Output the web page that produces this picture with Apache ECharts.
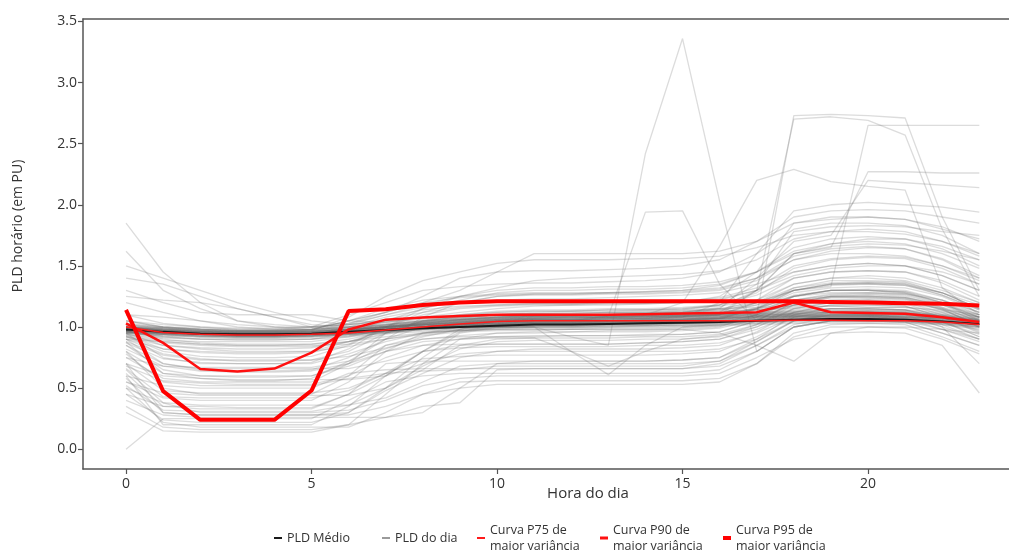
<!DOCTYPE html>
<html>
<head>
<meta charset="utf-8">
<script src="https://cdn.jsdelivr.net/npm/echarts@6/dist/echarts.min.js"></script>
<style>
html,body{margin:0;padding:0;background:#fff;}
#chart{width:1009px;height:555px;}
</style>
</head>
<body>
<div id="chart"></div>
<script>
// ---- data ----
const hours = [0,1,2,3,4,5,6,7,8,9,10,11,12,13,14,15,16,17,18,19,20,21,22,23];
const xTicks = [0,5,10,15,20];
const yTicks = [0,0.5,1,1.5,2,2.5,3,3.5];

const pldMedio = [0.98,0.96,0.945,0.94,0.94,0.945,0.96,0.975,0.99,1.0,1.01,1.02,1.02,1.025,1.03,1.035,1.04,1.05,1.06,1.065,1.065,1.06,1.045,1.025];
const p75 = [1.0,0.955,0.94,0.935,0.935,0.94,0.95,0.975,1.0,1.025,1.045,1.05,1.05,1.05,1.05,1.05,1.05,1.05,1.055,1.055,1.05,1.05,1.04,1.02];
const p90 = [1.03,0.87,0.656,0.636,0.66,0.79,0.98,1.06,1.078,1.09,1.1,1.1,1.1,1.1,1.105,1.11,1.115,1.12,1.2,1.12,1.115,1.108,1.08,1.04];
const p95 = [1.14,0.475,0.24,0.24,0.24,0.48,1.13,1.145,1.18,1.2,1.21,1.21,1.21,1.21,1.21,1.21,1.21,1.21,1.21,1.205,1.2,1.195,1.19,1.175];

// daily curves (PLD do dia)
const dia01 = [1.00,0.97,0.95,0.95,0.95,0.95,0.97,0.98,1.00,1.01,1.02,1.03,1.03,1.03,1.04,1.04,1.05,1.06,1.07,1.07,1.07,1.07,1.05,1.03];
const dia02 = [0.97,0.95,0.94,0.93,0.93,0.94,0.95,0.97,0.98,0.99,1.00,1.01,1.01,1.02,1.02,1.03,1.03,1.04,1.05,1.05,1.05,1.05,1.04,1.01];
const dia03 = [0.99,0.98,0.97,0.96,0.96,0.96,0.98,1.00,1.02,1.03,1.04,1.05,1.05,1.05,1.06,1.06,1.07,1.08,1.09,1.09,1.09,1.08,1.06,1.04];
const dia04 = [0.96,0.94,0.93,0.92,0.92,0.93,0.94,0.96,0.97,0.98,0.99,1.00,1.00,1.01,1.01,1.02,1.02,1.03,1.04,1.04,1.04,1.04,1.03,1.00];
const dia05 = [1.01,0.99,0.98,0.97,0.97,0.97,0.99,1.01,1.03,1.05,1.06,1.07,1.07,1.07,1.08,1.08,1.09,1.10,1.11,1.11,1.10,1.10,1.08,1.05];
const dia06 = [0.98,0.96,0.95,0.94,0.94,0.95,0.96,0.98,1.00,1.02,1.03,1.04,1.04,1.04,1.05,1.05,1.06,1.07,1.08,1.08,1.08,1.07,1.06,1.03];
const dia07 = [0.95,0.93,0.92,0.91,0.91,0.92,0.93,0.95,0.96,0.97,0.98,0.99,0.99,1.00,1.00,1.01,1.01,1.02,1.03,1.03,1.03,1.03,1.02,0.99];
const dia08 = [1.02,1.00,0.99,0.98,0.98,0.98,1.00,1.02,1.04,1.06,1.08,1.09,1.09,1.09,1.10,1.10,1.11,1.12,1.13,1.13,1.12,1.12,1.10,1.07];
const dia09 = [0.99,0.97,0.96,0.95,0.95,0.95,0.97,0.99,1.01,1.03,1.05,1.06,1.06,1.06,1.07,1.07,1.08,1.09,1.10,1.10,1.09,1.09,1.07,1.04];
const dia10 = [0.97,0.96,0.95,0.94,0.94,0.94,0.96,0.97,0.99,1.00,1.01,1.02,1.02,1.03,1.03,1.04,1.04,1.05,1.06,1.06,1.06,1.06,1.05,1.02];
const dia11 = [1.00,0.98,0.97,0.96,0.96,0.96,0.98,1.01,1.04,1.07,1.10,1.12,1.13,1.13,1.14,1.14,1.15,1.16,1.17,1.17,1.16,1.16,1.14,1.10];
const dia12 = [0.98,0.97,0.96,0.95,0.95,0.95,0.97,1.00,1.03,1.06,1.08,1.10,1.10,1.11,1.12,1.12,1.13,1.14,1.15,1.15,1.14,1.14,1.12,1.08];
const dia13 = [0.96,0.95,0.94,0.93,0.93,0.93,0.95,0.97,1.00,1.03,1.05,1.07,1.08,1.08,1.09,1.09,1.10,1.11,1.12,1.12,1.11,1.11,1.09,1.06];
const dia14 = [0.97,0.96,0.95,0.95,0.95,0.95,0.96,0.98,1.00,1.01,1.02,1.02,1.03,1.03,1.04,1.04,1.05,1.06,1.07,1.07,1.07,1.06,1.05,1.02];
const dia15 = [0.99,0.97,0.96,0.96,0.96,0.96,0.98,1.00,1.02,1.04,1.06,1.07,1.07,1.08,1.08,1.09,1.10,1.11,1.13,1.13,1.12,1.12,1.10,1.06];
const dia16 = [0.98,0.95,0.94,0.93,0.93,0.94,0.95,0.97,0.99,1.01,1.02,1.03,1.03,1.04,1.04,1.05,1.05,1.06,1.08,1.08,1.08,1.07,1.06,1.03];
const dia17 = [1.05,1.00,0.98,0.97,0.97,0.98,1.05,1.15,1.22,1.25,1.27,1.28,1.28,1.28,1.29,1.30,1.32,1.40,1.55,1.62,1.65,1.64,1.55,1.40];
const dia18 = [1.10,1.03,1.00,0.98,0.98,1.00,1.10,1.20,1.30,1.33,1.35,1.36,1.36,1.37,1.38,1.40,1.45,1.60,1.80,1.85,1.85,1.83,1.75,1.60];
const dia19 = [1.00,0.97,0.95,0.95,0.95,0.96,1.02,1.10,1.16,1.20,1.22,1.23,1.23,1.24,1.25,1.26,1.28,1.35,1.45,1.50,1.52,1.50,1.42,1.30];
const dia20 = [1.20,1.12,1.05,1.00,0.98,0.98,1.05,1.12,1.25,1.40,1.45,1.46,1.46,1.47,1.48,1.50,1.55,1.70,1.90,1.95,1.96,1.95,1.90,1.85];
const dia21 = [0.98,0.96,0.95,0.94,0.94,0.95,1.00,1.08,1.14,1.17,1.18,1.19,1.19,1.20,1.20,1.21,1.23,1.30,1.42,1.48,1.50,1.50,1.45,1.35];
const dia22 = [1.02,0.99,0.97,0.96,0.96,0.97,1.08,1.25,1.38,1.45,1.52,1.55,1.55,1.55,1.56,1.56,1.58,1.65,1.75,1.78,1.78,1.76,1.70,1.60];
const dia23 = [1.05,1.00,0.98,0.97,0.97,0.98,1.05,1.12,1.20,1.30,1.45,1.60,1.60,1.60,1.60,1.60,1.62,1.70,1.85,1.90,1.90,1.88,1.80,1.72];
const dia24 = [1.00,0.98,0.96,0.96,0.96,0.97,1.03,1.12,1.20,1.24,1.26,1.27,1.27,1.28,1.29,1.30,1.34,1.45,1.60,1.68,1.72,1.72,1.66,1.55];
const dia25 = [0.30,0.15,0.14,0.14,0.14,0.14,0.20,0.45,0.70,0.90,0.95,0.96,0.96,0.97,0.97,0.98,1.00,1.10,1.25,1.30,1.30,1.28,1.20,1.05];
const dia26 = [0.60,0.20,0.20,0.20,0.20,0.20,0.35,0.60,0.80,0.85,0.86,0.86,0.86,0.86,0.87,0.88,0.90,1.00,1.15,1.20,1.22,1.20,1.12,1.00];
const dia27 = [0.00,0.25,0.25,0.25,0.25,0.25,0.40,0.55,0.60,0.62,0.62,0.62,0.62,0.62,0.62,0.62,0.65,0.80,1.00,1.05,1.05,1.04,0.95,0.85];
const dia28 = [0.70,0.30,0.28,0.28,0.28,0.28,0.30,0.50,0.75,0.95,1.00,1.00,1.00,1.01,1.01,1.02,1.04,1.10,1.20,1.25,1.25,1.24,1.18,1.08];
const dia29 = [0.45,0.35,0.35,0.34,0.34,0.34,0.45,0.70,0.72,0.72,0.72,0.72,0.72,0.72,0.72,0.73,0.75,0.90,1.10,1.15,1.15,1.14,1.05,0.92];
const dia30 = [0.55,0.42,0.40,0.40,0.40,0.40,0.55,0.80,0.95,1.00,1.02,1.03,1.03,1.03,1.04,1.04,1.06,1.15,1.30,1.35,1.36,1.35,1.28,1.15];
const dia31 = [0.80,0.50,0.45,0.45,0.45,0.45,0.60,0.85,0.90,0.92,0.92,0.92,0.93,0.93,0.93,0.94,0.96,1.05,1.20,1.25,1.25,1.24,1.15,1.00];
const dia32 = [0.60,0.52,0.50,0.50,0.50,0.50,0.62,0.65,0.66,0.66,0.66,0.66,0.66,0.66,0.66,0.66,0.70,0.85,1.00,1.05,1.05,1.05,0.98,0.90];
const dia33 = [0.75,0.58,0.55,0.55,0.55,0.55,0.70,0.95,1.05,1.08,1.09,1.10,1.10,1.10,1.11,1.12,1.14,1.22,1.40,1.45,1.46,1.45,1.38,1.25];
const dia34 = [0.85,0.65,0.60,0.60,0.60,0.60,0.68,0.80,0.85,0.86,0.86,0.86,0.86,0.86,0.87,0.88,0.90,0.98,1.10,1.15,1.15,1.14,1.08,0.95];
const dia35 = [0.90,0.70,0.65,0.64,0.64,0.65,0.75,0.90,1.00,1.02,1.03,1.04,1.04,1.04,1.05,1.05,1.07,1.15,1.28,1.32,1.33,1.32,1.25,1.12];
const dia36 = [0.95,0.75,0.70,0.70,0.70,0.70,0.78,0.88,0.95,0.97,0.98,0.98,0.98,0.99,0.99,1.00,1.02,1.08,1.18,1.22,1.22,1.21,1.15,1.05];
const dia37 = [0.92,0.80,0.76,0.75,0.75,0.76,0.85,1.00,1.10,1.15,1.17,1.18,1.18,1.19,1.19,1.20,1.22,1.30,1.45,1.50,1.52,1.50,1.42,1.30];
const dia38 = [0.95,0.85,0.82,0.80,0.80,0.80,0.88,0.95,1.00,1.02,1.03,1.03,1.04,1.04,1.05,1.05,1.07,1.12,1.20,1.24,1.24,1.23,1.16,1.08];
const dia39 = [0.97,0.90,0.87,0.86,0.86,0.86,0.90,0.96,1.00,1.03,1.05,1.06,1.06,1.07,1.07,1.08,1.10,1.15,1.25,1.30,1.30,1.29,1.22,1.12];
const dia40 = [0.50,0.22,0.18,0.18,0.18,0.18,0.18,0.30,0.45,0.55,0.56,0.56,0.56,0.56,0.56,0.56,0.58,0.70,0.95,1.02,1.03,1.02,0.92,0.80];
const dia41 = [0.65,0.38,0.30,0.30,0.30,0.30,0.32,0.40,0.52,0.58,0.60,0.60,0.60,0.60,0.60,0.60,0.62,0.75,0.90,0.95,0.96,0.95,0.85,0.46];
const dia42 = [0.88,0.62,0.58,0.57,0.57,0.57,0.57,0.60,0.70,0.78,0.80,0.80,0.80,0.80,0.80,0.80,0.82,0.90,1.05,1.10,1.10,1.10,1.00,0.70];
const dia43 = [0.40,0.28,0.26,0.26,0.26,0.26,0.26,0.26,0.30,0.50,0.70,0.72,0.72,0.72,0.72,0.73,0.75,0.88,1.05,1.10,1.10,1.08,1.00,0.90];
const dia44 = [0.35,0.18,0.16,0.16,0.16,0.16,0.20,0.26,0.35,0.38,0.65,0.66,0.66,0.66,0.66,0.66,0.68,0.80,1.00,1.05,1.05,1.04,0.95,0.85];
const dia45 = [0.55,0.46,0.44,0.44,0.44,0.44,0.44,0.50,0.65,0.85,0.90,0.91,0.91,0.91,0.92,0.92,0.94,1.02,1.15,1.20,1.20,1.19,1.10,1.00];
const dia46 = [0.70,0.60,0.58,0.56,0.56,0.58,0.72,0.90,1.08,1.20,1.25,1.26,1.26,1.27,1.27,1.28,1.30,1.38,1.55,1.60,1.60,1.58,1.50,1.38];
const dia47 = [0.62,0.35,0.33,0.33,0.33,0.33,0.45,0.60,0.80,0.98,1.05,1.06,1.06,1.06,1.07,1.08,1.10,1.20,1.35,1.40,1.40,1.38,1.30,1.20];
const dia48 = [1.85,1.45,1.20,1.05,1.00,0.98,1.00,1.03,1.05,1.07,1.08,1.09,1.09,1.10,1.10,1.11,1.12,1.15,1.25,1.30,1.30,1.28,1.20,1.10];
const dia49 = [1.62,1.30,1.15,1.05,1.02,1.00,1.02,1.05,1.08,1.10,1.12,1.13,1.13,1.14,1.14,1.15,1.17,1.22,1.35,1.40,1.42,1.40,1.32,1.20];
const dia50 = [1.40,1.35,1.25,1.15,1.08,1.02,1.00,1.02,1.05,1.06,1.07,1.08,1.08,1.08,1.09,1.09,1.10,1.12,1.18,1.20,1.20,1.19,1.15,1.08];
const dia51 = [1.30,1.20,1.12,1.10,1.10,1.10,1.05,1.04,1.06,1.08,1.10,1.11,1.11,1.12,1.12,1.13,1.14,1.18,1.25,1.28,1.28,1.27,1.22,1.12];
const dia52 = [1.25,1.22,1.20,1.15,1.08,1.00,0.98,1.00,1.04,1.06,1.07,1.08,1.08,1.08,1.09,1.09,1.10,1.14,1.22,1.25,1.25,1.24,1.18,1.10];
const dia53 = [0.95,0.92,0.90,0.90,0.90,0.90,0.92,0.95,0.98,1.00,1.00,1.00,0.92,0.85,2.42,3.36,2.03,0.80,1.00,1.05,1.06,1.05,1.02,0.98];
const dia54 = [0.96,0.94,0.92,0.92,0.92,0.92,0.94,0.97,1.00,1.02,1.03,1.04,1.05,1.09,1.94,1.95,1.35,1.05,1.12,1.15,1.15,1.14,1.08,1.02];
const dia55 = [1.00,0.97,0.96,0.95,0.95,0.96,0.98,1.02,1.05,1.07,1.08,1.09,1.10,1.10,1.11,1.12,1.15,1.10,2.73,2.74,2.73,2.71,1.90,1.30];
const dia56 = [0.98,0.96,0.95,0.94,0.94,0.95,0.97,1.00,1.03,1.05,1.06,1.07,1.08,1.08,1.09,1.10,1.12,1.30,2.70,2.72,2.69,2.57,1.80,1.25];
const dia57 = [0.97,0.95,0.94,0.94,0.94,0.94,0.96,0.99,1.02,1.04,1.05,1.06,1.06,1.07,1.08,1.09,1.11,1.20,1.30,1.33,2.65,2.65,2.65,2.65];
const dia58 = [0.99,0.97,0.96,0.95,0.95,0.96,0.98,1.01,1.04,1.06,1.07,1.08,1.09,1.09,1.10,1.20,1.66,2.20,2.29,2.19,2.15,2.12,1.32,1.10];
const dia59 = [0.97,0.95,0.94,0.93,0.93,0.94,0.96,0.99,1.02,1.04,1.05,1.06,1.06,1.07,1.07,1.08,1.20,1.60,1.95,2.00,2.02,2.00,1.98,1.94];
const dia60 = [0.99,0.97,0.96,0.95,0.95,0.95,0.97,1.00,1.03,1.05,1.06,1.07,1.07,1.08,1.09,1.10,1.15,1.40,1.70,1.75,2.20,2.18,2.16,2.14];
const dia61 = [0.96,0.94,0.93,0.92,0.92,0.93,0.95,0.98,1.00,1.02,1.03,1.04,1.04,1.05,1.05,1.06,1.10,1.30,1.60,1.65,2.27,2.27,2.26,2.26];
const dia62 = [1.00,0.98,0.97,0.96,0.96,0.97,0.99,1.02,1.05,1.08,1.10,1.11,1.12,1.12,1.13,1.14,1.18,1.35,1.78,1.82,1.83,1.82,1.78,1.75];
const dia63 = [0.98,0.96,0.95,0.94,0.94,0.95,0.97,1.00,1.03,1.06,1.08,1.09,1.10,1.10,1.11,1.12,1.16,1.30,1.60,1.66,1.68,1.67,1.62,1.55];
const dia64 = [1.03,1.00,0.98,0.97,0.97,0.98,1.00,1.04,1.08,1.12,1.15,1.17,1.18,1.18,1.19,1.20,1.25,1.45,1.85,1.88,1.90,1.88,1.82,1.70];
const dia65 = [0.95,0.93,0.92,0.92,0.92,0.92,0.94,0.96,0.98,1.00,1.00,1.00,0.80,0.61,0.85,1.00,1.02,1.03,1.05,1.06,1.06,1.05,1.03,1.00];
const dia66 = [0.90,0.88,0.86,0.85,0.85,0.86,0.88,0.92,0.95,0.97,0.98,0.98,0.98,0.98,0.98,0.98,0.95,0.85,0.72,0.95,1.00,1.00,0.98,0.95];
const dia67 = [0.97,0.95,0.94,0.94,0.94,0.94,0.96,0.98,1.01,1.03,1.05,1.06,1.06,1.07,1.07,1.08,1.09,1.10,1.11,1.11,1.10,1.10,1.08,1.05];
const dia68 = [0.99,0.96,0.95,0.94,0.94,0.95,0.96,0.98,1.00,1.02,1.04,1.05,1.05,1.05,1.06,1.06,1.07,1.08,1.09,1.09,1.09,1.08,1.07,1.04];
const dia69 = [0.96,0.94,0.93,0.93,0.93,0.93,0.95,0.97,0.99,1.01,1.03,1.04,1.04,1.04,1.05,1.05,1.06,1.07,1.08,1.08,1.08,1.07,1.05,1.02];
const dia70 = [1.00,0.98,0.96,0.95,0.95,0.95,0.97,0.99,1.02,1.04,1.06,1.08,1.08,1.09,1.10,1.10,1.11,1.12,1.14,1.14,1.13,1.13,1.11,1.07];
const dia71 = [0.98,0.96,0.94,0.94,0.94,0.94,0.96,0.98,1.00,1.02,1.03,1.04,1.04,1.05,1.05,1.06,1.07,1.09,1.11,1.12,1.12,1.11,1.09,1.05];
const dia72 = [0.97,0.95,0.95,0.94,0.94,0.95,0.96,0.99,1.02,1.05,1.07,1.09,1.09,1.10,1.11,1.11,1.12,1.14,1.16,1.17,1.16,1.16,1.13,1.08];
const dia73 = [0.92,0.85,0.83,0.82,0.82,0.83,0.88,0.97,1.03,1.06,1.08,1.09,1.09,1.10,1.10,1.11,1.13,1.20,1.32,1.36,1.37,1.36,1.28,1.15];
const dia74 = [0.93,0.88,0.86,0.85,0.85,0.85,0.86,0.90,0.94,0.97,0.99,1.00,1.00,1.00,1.01,1.01,1.03,1.10,1.22,1.26,1.27,1.26,1.18,1.06];
const dia75 = [0.90,0.78,0.74,0.72,0.72,0.73,0.80,0.95,1.05,1.10,1.13,1.14,1.14,1.15,1.15,1.16,1.18,1.26,1.40,1.45,1.46,1.45,1.36,1.22];
const dia76 = [0.85,0.70,0.66,0.66,0.66,0.66,0.66,0.72,0.80,0.83,0.84,0.84,0.84,0.84,0.85,0.85,0.87,0.95,1.08,1.12,1.13,1.12,1.04,0.94];
const dia77 = [0.80,0.62,0.60,0.59,0.59,0.60,0.70,0.85,0.93,0.96,0.97,0.97,0.98,0.98,0.98,0.99,1.01,1.08,1.22,1.27,1.28,1.27,1.19,1.08];
const dia78 = [0.94,0.89,0.88,0.88,0.88,0.88,0.92,0.98,1.04,1.09,1.12,1.13,1.13,1.14,1.14,1.15,1.18,1.28,1.48,1.55,1.57,1.56,1.48,1.35];
const dia79 = [0.70,0.48,0.46,0.46,0.46,0.46,0.50,0.62,0.74,0.76,0.77,0.77,0.77,0.77,0.77,0.78,0.80,0.92,1.08,1.13,1.14,1.13,1.04,0.92];
const dia80 = [0.50,0.38,0.36,0.36,0.36,0.36,0.36,0.42,0.55,0.68,0.70,0.70,0.70,0.70,0.70,0.70,0.72,0.85,1.02,1.08,1.08,1.07,0.98,0.88];
const dia81 = [0.45,0.24,0.22,0.22,0.22,0.22,0.30,0.48,0.62,0.75,0.80,0.82,0.82,0.82,0.82,0.83,0.85,0.96,1.12,1.18,1.18,1.17,1.08,0.96];
const dia82 = [0.87,0.74,0.71,0.70,0.70,0.71,0.82,1.00,1.15,1.25,1.30,1.32,1.32,1.33,1.33,1.34,1.37,1.45,1.62,1.68,1.70,1.68,1.60,1.48];
const dia83 = [0.93,0.82,0.79,0.78,0.78,0.79,0.86,1.00,1.12,1.20,1.25,1.27,1.27,1.28,1.28,1.29,1.31,1.40,1.58,1.64,1.66,1.64,1.56,1.42];
const dia84 = [0.96,0.92,0.90,0.89,0.89,0.90,0.95,1.05,1.15,1.22,1.28,1.30,1.30,1.31,1.31,1.32,1.35,1.45,1.65,1.72,1.74,1.72,1.64,1.50];
const dia85 = [0.58,0.30,0.28,0.28,0.28,0.28,0.28,0.35,0.45,0.50,0.53,0.53,0.53,0.53,0.53,0.53,0.55,0.70,0.92,1.00,1.00,0.99,0.90,0.78];
const dia86 = [0.78,0.55,0.52,0.52,0.52,0.52,0.58,0.62,0.64,0.65,0.68,0.68,0.68,0.68,0.68,0.68,0.72,0.88,1.05,1.12,1.13,1.12,1.02,0.90];
const dia87 = [0.82,0.68,0.64,0.63,0.63,0.64,0.70,0.80,0.88,0.90,0.91,0.91,0.80,0.68,0.80,0.90,0.93,1.00,1.12,1.18,1.18,1.17,1.08,0.97];
const dia88 = [1.05,1.02,1.00,0.99,0.99,1.00,1.03,1.10,1.18,1.25,1.32,1.38,1.40,1.41,1.42,1.43,1.46,1.55,1.72,1.78,1.80,1.78,1.70,1.58];
const dia89 = [1.10,1.08,1.05,1.02,1.00,1.00,1.02,1.06,1.12,1.16,1.18,1.19,1.19,1.20,1.20,1.21,1.24,1.32,1.50,1.56,1.58,1.57,1.50,1.40];
const dia90 = [1.50,1.40,1.30,1.20,1.12,1.05,1.02,1.04,1.07,1.09,1.10,1.11,1.11,1.12,1.12,1.13,1.15,1.20,1.30,1.35,1.35,1.34,1.28,1.18];
const dia91 = [0.98,0.97,0.96,0.95,0.95,0.95,0.96,0.98,1.00,1.02,1.03,1.04,1.04,1.05,1.05,1.06,1.06,1.07,1.08,1.08,1.08,1.07,1.06,1.03];
const dia92 = [0.97,0.96,0.95,0.94,0.94,0.94,0.95,0.97,0.99,1.01,1.02,1.03,1.03,1.04,1.04,1.05,1.05,1.06,1.07,1.07,1.07,1.06,1.05,1.02];
const dia93 = [0.99,0.98,0.97,0.97,0.97,0.97,0.98,1.00,1.02,1.04,1.05,1.06,1.06,1.07,1.07,1.08,1.08,1.09,1.10,1.10,1.10,1.09,1.08,1.05];
const dia94 = [0.96,0.95,0.94,0.94,0.94,0.94,0.95,0.97,0.99,1.00,1.01,1.02,1.02,1.03,1.03,1.04,1.04,1.05,1.06,1.06,1.06,1.05,1.04,1.01];
const dia95 = [1.00,0.99,0.98,0.97,0.97,0.97,0.98,1.00,1.02,1.04,1.06,1.07,1.07,1.08,1.08,1.09,1.09,1.10,1.11,1.12,1.11,1.11,1.09,1.06];
const dia96 = [0.97,0.95,0.94,0.93,0.93,0.94,0.95,0.97,1.00,1.02,1.04,1.05,1.05,1.06,1.06,1.07,1.07,1.08,1.09,1.09,1.09,1.08,1.07,1.04];
const dia97 = [0.98,0.97,0.96,0.96,0.96,0.96,0.97,0.99,1.01,1.03,1.05,1.06,1.06,1.06,1.07,1.07,1.08,1.09,1.10,1.10,1.10,1.09,1.08,1.05];
const dia98 = [0.95,0.94,0.93,0.92,0.92,0.93,0.94,0.96,0.98,0.99,1.00,1.01,1.01,1.02,1.02,1.03,1.03,1.04,1.05,1.05,1.05,1.04,1.03,1.00];
const dia99 = [0.99,0.97,0.96,0.95,0.95,0.96,0.97,1.00,1.03,1.05,1.07,1.08,1.08,1.09,1.09,1.10,1.10,1.11,1.12,1.12,1.12,1.11,1.09,1.06];
const dia100 = [0.97,0.96,0.95,0.95,0.95,0.95,0.96,0.98,1.00,1.02,1.04,1.05,1.05,1.05,1.06,1.06,1.07,1.08,1.09,1.09,1.09,1.08,1.07,1.04];
const dia101 = [1.01,0.99,0.97,0.96,0.96,0.96,0.98,1.00,1.02,1.03,1.04,1.05,1.05,1.06,1.06,1.07,1.07,1.08,1.09,1.09,1.09,1.08,1.07,1.04];
const dia102 = [0.96,0.94,0.94,0.93,0.93,0.93,0.94,0.96,0.98,1.00,1.02,1.03,1.03,1.04,1.04,1.05,1.05,1.06,1.07,1.07,1.07,1.06,1.05,1.02];
const dia103 = [0.68,0.56,0.54,0.53,0.53,0.53,0.60,0.75,0.85,0.90,0.92,0.93,0.93,0.93,0.94,0.94,0.96,1.05,1.20,1.25,1.26,1.25,1.16,1.04];
const dia104 = [0.75,0.68,0.67,0.67,0.67,0.67,0.72,0.82,0.92,0.98,1.02,1.03,1.03,1.04,1.04,1.05,1.07,1.15,1.30,1.35,1.36,1.35,1.26,1.14];
const dia105 = [0.90,0.82,0.80,0.79,0.79,0.80,0.84,0.90,0.95,0.98,1.00,1.01,1.01,1.02,1.02,1.03,1.05,1.12,1.25,1.30,1.30,1.29,1.20,1.08];
const dia106 = [0.88,0.77,0.73,0.73,0.73,0.73,0.76,0.83,0.90,0.93,0.95,0.95,0.96,0.96,0.96,0.97,0.99,1.06,1.18,1.22,1.23,1.22,1.14,1.02];
const dia107 = [0.52,0.32,0.31,0.31,0.31,0.31,0.36,0.50,0.68,0.82,0.88,0.89,0.89,0.89,0.90,0.90,0.92,1.02,1.18,1.24,1.24,1.23,1.14,1.02];
const dia108 = [0.66,0.43,0.42,0.42,0.42,0.42,0.48,0.62,0.80,0.96,1.02,1.04,1.04,1.05,1.05,1.06,1.08,1.16,1.32,1.38,1.38,1.37,1.28,1.15];
const dia109 = [0.94,0.91,0.90,0.90,0.90,0.90,0.93,0.97,1.01,1.04,1.06,1.07,1.07,1.08,1.08,1.09,1.11,1.18,1.30,1.34,1.35,1.34,1.26,1.14];
const dia110 = [0.92,0.87,0.85,0.84,0.84,0.84,0.88,0.94,0.99,1.02,1.04,1.05,1.05,1.05,1.06,1.06,1.08,1.14,1.26,1.30,1.31,1.30,1.22,1.10];

const pldDoDia = [dia01,dia02,dia03,dia04,dia05,dia06,dia07,dia08,dia09,dia10,dia11,dia12,dia13,dia14,dia15,dia16,
  dia17,dia18,dia19,dia20,dia21,dia22,dia23,dia24,dia25,dia26,dia27,dia28,dia29,dia30,dia31,dia32,dia33,dia34,dia35,
  dia36,dia37,dia38,dia39,dia40,dia41,dia42,dia43,dia44,dia45,dia46,dia47,dia48,dia49,dia50,dia51,dia52,dia53,dia54,
  dia55,dia56,dia57,dia58,dia59,dia60,dia61,dia62,dia63,dia64,dia65,dia66,dia67,dia68,dia69,dia70,dia71,dia72,dia73,
  dia74,dia75,dia76,dia77,dia78,dia79,dia80,dia81,dia82,dia83,dia84,dia85,dia86,dia87,dia88,dia89,dia90,dia91,dia92,
  dia93,dia94,dia95,dia96,dia97,dia98,dia99,dia100,dia101,dia102,dia103,dia104,dia105,dia106,dia107,dia108,dia109,dia110];

const NAME_MEDIO = 'PLD Médio';
const NAME_DIA = 'PLD do dia';
const NAME_P75 = 'Curva P75 de\nmaior variância';
const NAME_P90 = 'Curva P90 de\nmaior variância';
const NAME_P95 = 'Curva P95 de\nmaior variância';

// ---- chart ----
const FONT = '"Open Sans", "Noto Sans", sans-serif';
const toPairs = arr => hours.map((h, i) => [h, arr[i]]);
const GRAY = 'rgba(110,110,110,0.24)';

const series = [];
pldDoDia.forEach(d => {
  series.push({
    name: NAME_DIA, type: 'line', data: toPairs(d), symbol: 'none', silent: true,
    color: GRAY, lineStyle: {width: 1.3, color: GRAY}, z: 2
  });
});
series.push({name: NAME_MEDIO, type: 'line', data: toPairs(pldMedio), symbol: 'none', silent: true,
  color: '#1a1a1a', lineStyle: {width: 2, color: '#1a1a1a'}, z: 3});
series.push({name: NAME_P75, type: 'line', data: toPairs(p75), symbol: 'none', silent: true,
  color: '#ff1a1a', lineStyle: {width: 1.5, color: '#ff1a1a'}, z: 4});
series.push({name: NAME_P90, type: 'line', data: toPairs(p90), symbol: 'none', silent: true,
  color: '#ff1010', lineStyle: {width: 2.5, color: '#ff1010'}, z: 5});
series.push({name: NAME_P95, type: 'line', data: toPairs(p95), symbol: 'none', silent: true,
  color: '#ff0000', lineStyle: {width: 4, color: '#ff0000'}, z: 6});

function mkLegend(name, left, top, iconColor, h) {
  return {
    data: [{name: name, itemStyle: {color: iconColor}}],
    left: left, top: top, orient: 'horizontal', icon: 'rect',
    itemWidth: 8, itemHeight: h, itemGap: 0, padding: 0,
    selectedMode: false,
    textStyle: {fontFamily: FONT, fontSize: 12.5, color: '#333', lineHeight: 16}
  };
}

const option = {
  animation: false,
  backgroundColor: '#ffffff',
  grid: {left: 83, right: 0, top: 19, bottom: 86, containLabel: false},
  xAxis: [{
    type: 'value', min: -1.16, max: 23.8,
    axisLine: {show: true, onZero: false, lineStyle: {color: '#555', width: 1.5}},
    axisTick: {show: true, customValues: xTicks, length: 5, lineStyle: {color: '#555', width: 1.2}},
    axisLabel: {show: true, customValues: xTicks, margin: 8, fontFamily: FONT, fontSize: 14, color: '#333'},
    splitLine: {show: false}
  }, {
    type: 'value', position: 'top', min: -1.16, max: 23.8,
    axisLine: {show: true, onZero: false, lineStyle: {color: '#555', width: 1.5}},
    axisTick: {show: false}, axisLabel: {show: false}, splitLine: {show: false}
  }],
  yAxis: {
    type: 'value', min: -0.162, max: 3.52,
    axisLine: {show: true, onZero: false, lineStyle: {color: '#555', width: 1.5}},
    axisTick: {show: true, customValues: yTicks, length: 5, lineStyle: {color: '#555', width: 1.2}},
    axisLabel: {show: true, customValues: yTicks, margin: 6, fontFamily: FONT, fontSize: 14, color: '#333',
      formatter: v => Number(v).toFixed(1)},
    splitLine: {show: false}
  },
  legend: [
    mkLegend(NAME_MEDIO, 274, 530, '#1a1a1a', 2),
    mkLegend(NAME_DIA, 382, 530, '#9a9a9a', 2),
    mkLegend(NAME_P75, 477, 522, '#ff1a1a', 2),
    mkLegend(NAME_P90, 600, 522, '#ff1010', 3),
    mkLegend(NAME_P95, 723, 522, '#ff0000', 4)
  ],
  graphic: [
    {type: 'text', x: 588, y: 494, style: {text: 'Hora do dia', fontFamily: FONT, fontSize: 15, fill: '#333',
      align: 'center', verticalAlign: 'middle'}},
    {type: 'text', x: 18, y: 226, rotation: Math.PI / 2, style: {text: 'PLD horário (em PU)', fontFamily: FONT,
      fontSize: 14, fill: '#333', align: 'center', verticalAlign: 'middle'}}
  ],
  series: series
};

const chart = echarts.init(document.getElementById('chart'), null, {renderer: 'canvas'});
chart.setOption(option);
</script>
</body>
</html>
